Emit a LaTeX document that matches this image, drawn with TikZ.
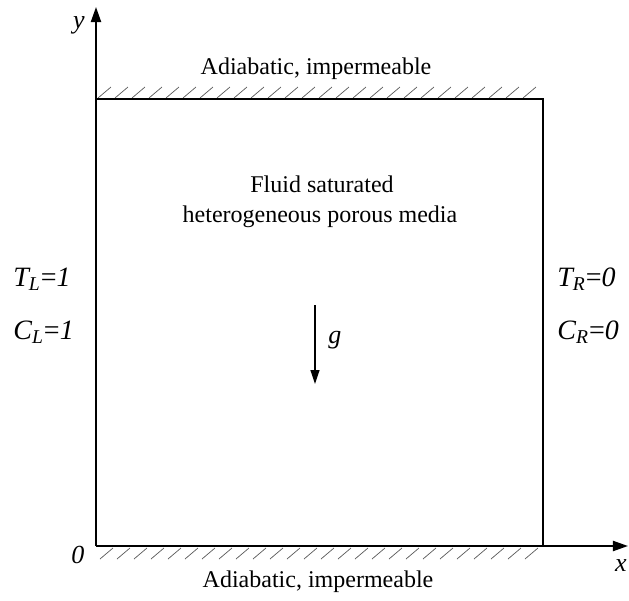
\documentclass[tikz,border=0pt]{standalone}
\usepackage{fontspec}
\setmainfont{Liberation Serif}
\usetikzlibrary{arrows.meta}
\begin{document}
\begin{tikzpicture}[x=0.5pt,y=-0.5pt,
  wall/.style={line width=1pt},
  axis/.style={line width=1pt,-{Triangle[length=7.5pt,width=5pt]}},
  hatch/.style={line width=0.35pt,black!65},
  lbl/.style={inner sep=0pt,font=\fontsize{12}{14}\selectfont},
  ital/.style={inner sep=0pt,font=\fontsize{13}{15}\selectfont\itshape},
  bc/.style={inner sep=0pt,font=\fontsize{14}{16}\selectfont\itshape}]
\useasboundingbox (0,0) rectangle (629,601);
% corners
\coordinate (O) at (96,546);
\coordinate (TL) at (96,99);
\coordinate (TR) at (543,99);
\coordinate (BR) at (543,546);
\coordinate (XE) at (628,546);
\coordinate (YE) at (96,7);
% hatching
\foreach \xx in {98,115,...,530} {
  \draw[hatch] (\xx,98) -- ++(13,-11);
}
\foreach \xx in {100,117,...,530} {
  \draw[hatch] (\xx,559) -- ++(13,-11);
}
% walls and axes
\draw[wall] (TL) -- (TR) -- (BR);
\draw[axis] (O) -- (XE);
\draw[axis] (O) -- (YE);
% axis labels
\node[ital] (ylab) at (79,25) {y};
\node[ital] (xlab) at (621,566) {x};
\node[ital] (zero) at (78,555) {0};
% texts
\node[lbl,anchor=base] (top) at (316,74) {Adiabatic, impermeable};
\node[lbl,anchor=base] (bot) at (318,587) {Adiabatic, impermeable};
\node[lbl,anchor=base] (f1) at (322,192) {Fluid saturated};
\node[lbl,anchor=base] (f2) at (320,222) {heterogeneous porous media};
\node[bc,anchor=base west] (tl) at (13,286) {T\textsubscript{L}\textup{=}1};
\node[bc,anchor=base west] (cl) at (13,339) {C\textsubscript{L}\textup{=}1};
\node[bc,anchor=base west] (tr) at (557,286) {T\textsubscript{R}\textup{=}0};
\node[bc,anchor=base west] (cr) at (557,339) {C\textsubscript{R}\textup{=}0};
% gravity
\coordinate (g1) at (315,305);
\coordinate (g2) at (315,384);
\draw[line width=0.6pt,-{Triangle[length=7pt,width=4.5pt]}] (g1) -- (g2);
\node[ital] (g) at (335,340) {g};
\end{tikzpicture}
\end{document}
